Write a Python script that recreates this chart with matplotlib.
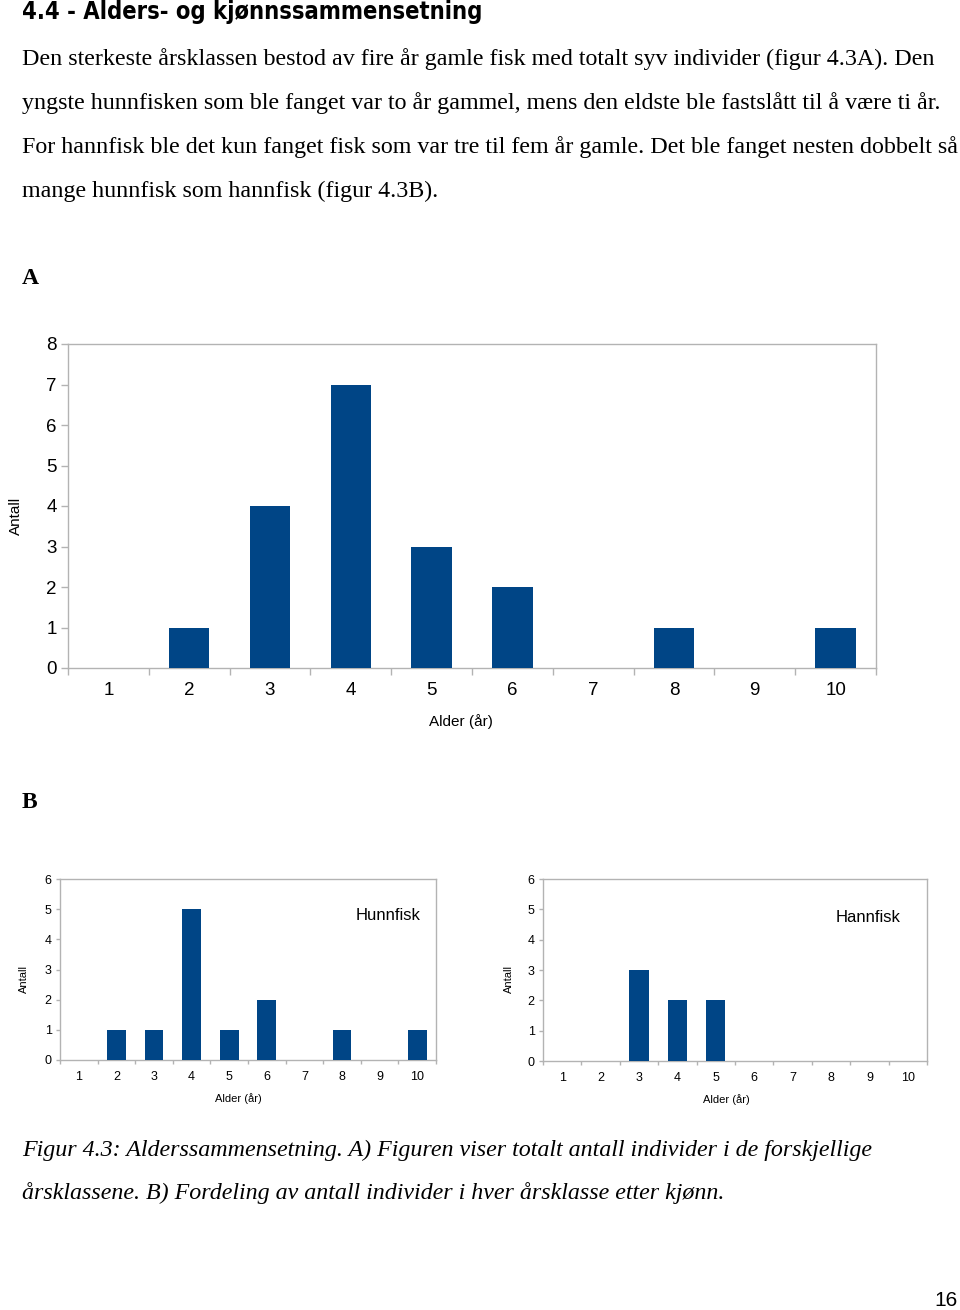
import numpy as np
from matplotlib import pyplot as plt

ages = list(range(1, 11))
total = [0, 1, 4, 7, 3, 2, 0, 1, 0, 1]
female = [0, 1, 1, 5, 1, 2, 0, 1, 0, 1]
male = [0, 0, 3, 2, 2, 0, 0, 0, 0, 0]

heading = '4.4 - Alders- og kjønnssammensetning'
body = [
    'Den sterkeste årsklassen bestod av fire år gamle fisk med totalt syv individer (figur 4.3A). Den',
    'yngste hunnfisken som ble fanget var to år gammel, mens den eldste ble fastslått til å være ti år.',
    'For hannfisk ble det kun fanget fisk som var tre til fem år gamle. Det ble fanget nesten dobbelt så',
    'mange hunnfisk som hannfisk (figur 4.3B).',
]
caption = [
    'Figur 4.3: Alderssammensetning. A) Figuren viser totalt antall individer i de forskjellige',
    'årsklassene. B) Fordeling av antall individer i hver årsklasse etter kjønn.',
]

BAR = '#004586'
GRID = '#b3b3b3'
W, H = 960, 1310

plt.rcParams['font.family'] = ['Liberation Sans', 'DejaVu Sans']

fig = plt.figure(figsize=(W / 100, H / 100), dpi=100)


def px_axes(x0, y0, x1, y1):
    return fig.add_axes([x0 / W, 1 - y1 / H, (x1 - x0) / W, (y1 - y0) / H])


def draw_bars(ax, values, ymax, tick_fs, label_fs, tick_len):
    ax.bar(ages, values, width=0.5, color=BAR, zorder=3)
    ax.set_xlim(0.5, 10.5)
    ax.set_ylim(0, ymax)
    ax.set_yticks(range(0, ymax + 1))
    ax.set_xticks(ages)
    ax.set_xticks(np.arange(0.5, 11, 1), minor=True)
    ax.tick_params(axis='x', which='major', length=0, labelsize=tick_fs,
                   pad=tick_len + 5)
    ax.tick_params(axis='x', which='minor', length=tick_len, color=GRID,
                   width=1)
    ax.tick_params(axis='y', length=tick_len, color=GRID, width=1,
                   labelsize=tick_fs, pad=3)
    for s in ax.spines.values():
        s.set_color(GRID)
        s.set_linewidth(1)
    ax.set_xlabel('Alder (år)', fontsize=label_fs)
    ax.set_ylabel('Antall', fontsize=label_fs)


fig.text(22 / W, 1 - 12 / H, heading, fontsize=17, fontweight='bold',
         family=['DejaVu Sans'], fontstretch='condensed',
         va='center', ha='left')
for i, line in enumerate(body):
    fig.text(22 / W, 1 - (59 + 44 * i) / H, line, fontsize=17.3,
             family=['Liberation Serif'], va='center', ha='left')

fig.text(22 / W, 1 - 278 / H, 'A', fontsize=17, fontweight='bold',
         family=['Liberation Serif'], va='center', ha='left')
fig.text(22 / W, 1 - 802 / H, 'B', fontsize=17, fontweight='bold',
         family=['Liberation Serif'], va='center', ha='left')

axA = px_axes(68, 344, 876, 668)
draw_bars(axA, total, 8, 13.5, 11, 5)
axA.xaxis.set_label_coords((461 - 68) / 808, -46 / 324)
axA.yaxis.set_label_coords(-45 / 808, 0.47)

axF = px_axes(60, 879, 436, 1060)
draw_bars(axF, female, 6, 9, 8, 3)
axF.xaxis.set_label_coords((238 - 60) / 376, -33 / 181)
axF.yaxis.set_label_coords(-31 / 376, 0.45)
axF.text(0.96, 0.8, 'Hunnfisk', transform=axF.transAxes, fontsize=12,
         ha='right', va='center')

axM = px_axes(543, 879, 927, 1061)
draw_bars(axM, male, 6, 9, 8, 3)
axM.xaxis.set_label_coords((726 - 543) / 384, -33 / 182)
axM.yaxis.set_label_coords(-29 / 384, 0.45)
axM.text(0.93, 0.79, 'Hannfisk', transform=axM.transAxes, fontsize=12,
         ha='right', va='center')

for i, line in enumerate(caption):
    fig.text(22 / W, 1 - (1150 + 43 * i) / H, line, fontsize=17.3,
             family=['Liberation Serif'], style='italic', va='center',
             ha='left')

fig.text(958 / W, 1 - 1300 / H, '16', fontsize=15, ha='right', va='center')

fig.savefig('out.png', dpi=100)
